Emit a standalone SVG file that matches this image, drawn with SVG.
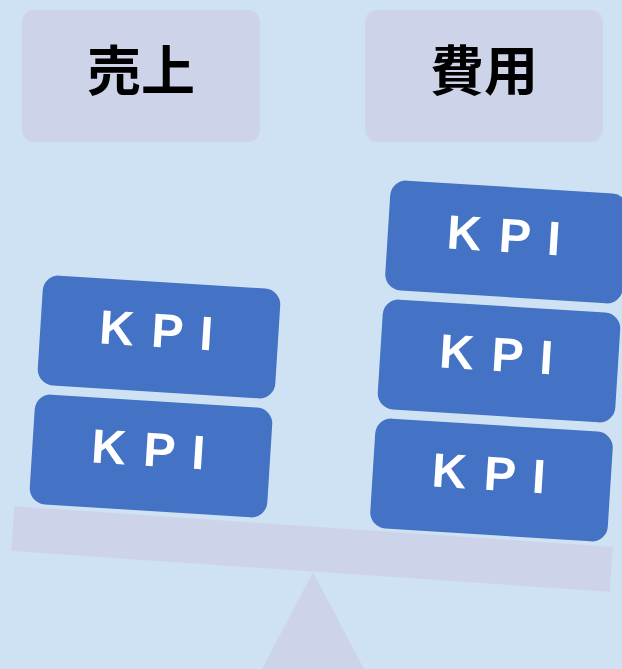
<svg xmlns="http://www.w3.org/2000/svg" width="622" height="669" viewBox="0 0 622 669">
<style>
.hdr{fill:#cdd4e9}
.hdrt{font-family:"Noto Sans CJK JP","Noto Sans CJK SC",sans-serif;font-weight:bold;font-size:54px;fill:#000;text-anchor:middle}
.kpi{fill:#4472c4}
.kpit{font-family:"Liberation Sans",Arial,sans-serif;font-weight:bold;font-size:48px;fill:#fff;text-anchor:middle;letter-spacing:2px}
.base{fill:#cdd4e9}
</style>
<rect width="622" height="669" fill="#cfe2f4"/>
<g id="fulcrum"><polygon class="base" points="313,572 262,669 364,669"/></g>
<g id="beam"><rect class="base" x="-300" y="-22.5" width="600" height="45" transform="translate(312,549) rotate(3.9)"/></g>
<g id="uriage"><rect class="hdr" x="22" y="10" width="238" height="132" rx="12"/><text class="hdrt" x="141" y="91">売上</text></g>
<g id="hiyou"><rect class="hdr" x="365" y="10" width="238" height="132" rx="12"/><text class="hdrt" x="484" y="91">費用</text></g>
<g id="kpi-l1" transform="translate(151,456) rotate(3.6)"><rect class="kpi" x="-119" y="-55" width="238" height="110" rx="16"/><text class="kpit" x="-2" y="10">K P I</text></g>
<g id="kpi-l2" transform="translate(159,337) rotate(3.6)"><rect class="kpi" x="-119" y="-55" width="238" height="110" rx="16"/><text class="kpit" x="-2" y="10">K P I</text></g>
<g id="kpi-r1" transform="translate(491.5,480) rotate(3.6)"><rect class="kpi" x="-119" y="-55" width="238" height="110" rx="16"/><text class="kpit" x="-2" y="10">K P I</text></g>
<g id="kpi-r2" transform="translate(499,361) rotate(3.6)"><rect class="kpi" x="-119" y="-55" width="238" height="110" rx="16"/><text class="kpit" x="-2" y="10">K P I</text></g>
<g id="kpi-r3" transform="translate(506.5,242) rotate(3.6)"><rect class="kpi" x="-119" y="-55" width="238" height="110" rx="16"/><text class="kpit" x="-2" y="10">K P I</text></g>
<g id="connectors"/>
</svg>
